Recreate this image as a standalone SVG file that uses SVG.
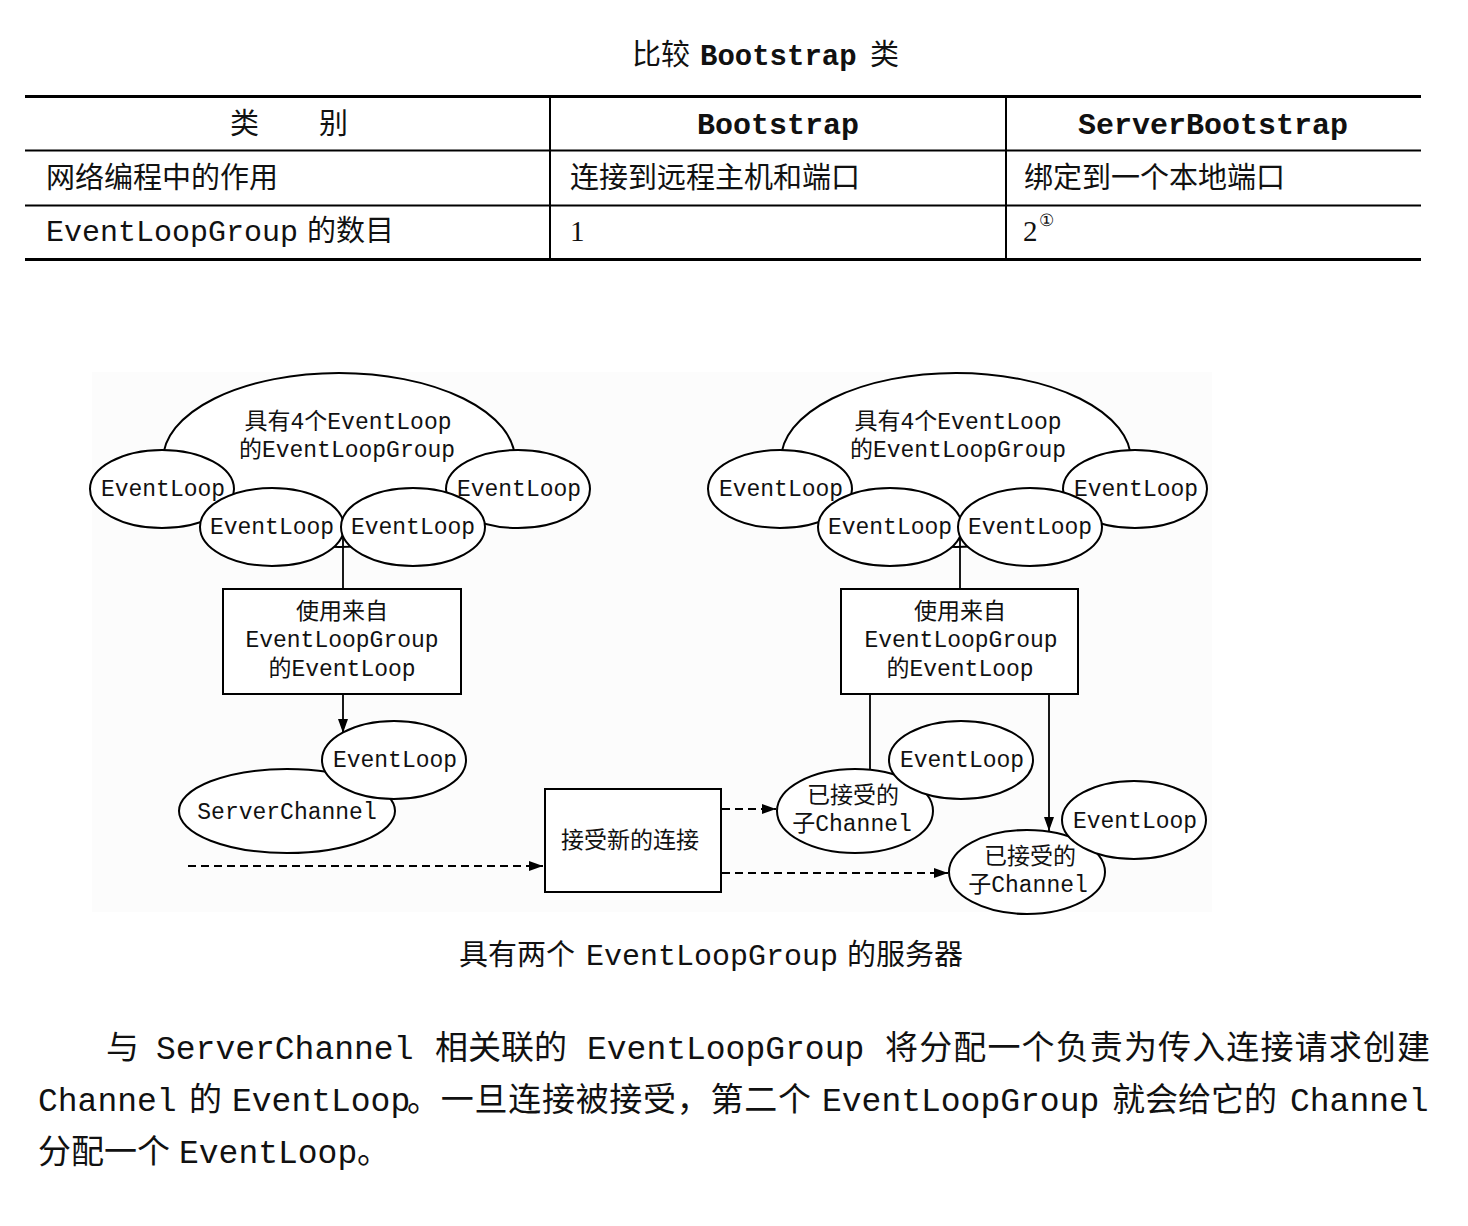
<svg xmlns="http://www.w3.org/2000/svg" width="1468" height="1226" viewBox="0 0 1468 1226">
  <style>
    .cjk { font-family: "Liberation Serif", "Noto Sans CJK SC", serif; fill: #111; }
    .mono { font-family: "Liberation Mono", "Noto Sans CJK SC", monospace; fill: #111; }
    .bold { font-weight: bold; }
    .serif { font-family: "Liberation Serif", serif; fill: #111; }
    .node { fill: #fff; stroke: #000; stroke-width: 2; }
    .lbl { font-family: "Liberation Mono", "Noto Sans CJK SC", monospace; font-size: 23px; fill: #111; text-anchor: middle; }
    .wire { fill: none; stroke: #000; stroke-width: 1.8; }
    .dash { stroke-dasharray: 8 5; }
    .rule { stroke: #000; }
  </style>
  <defs>
    <marker id="head" markerUnits="userSpaceOnUse" markerWidth="15" markerHeight="11" refX="14" refY="5" orient="auto">
      <path d="M0,0 L14,5 L0,10 z" fill="#000"/>
    </marker>
  </defs>

  <rect width="1468" height="1226" fill="#fff"/>

  <!-- table title -->
  <g id="table-title">
    <text class="cjk" x="632" y="65" font-size="29">比较</text>
    <text class="mono bold" x="700" y="65" font-size="29">Bootstrap</text>
    <text class="cjk" x="870" y="65" font-size="29">类</text>
  </g>

  <!-- comparison table -->
  <g id="table">
    <line class="rule" x1="25" y1="96.5" x2="1421" y2="96.5" stroke-width="3"/>
    <line class="rule" x1="25" y1="150.5" x2="1421" y2="150.5" stroke-width="2"/>
    <line class="rule" x1="25" y1="205.5" x2="1421" y2="205.5" stroke-width="2"/>
    <line class="rule" x1="25" y1="259.5" x2="1421" y2="259.5" stroke-width="3"/>
    <line class="rule" x1="550" y1="96" x2="550" y2="259" stroke-width="2"/>
    <line class="rule" x1="1006" y1="96" x2="1006" y2="259" stroke-width="2"/>

    <text class="cjk" x="230" y="134" font-size="29">类</text>
    <text class="cjk" x="319" y="134" font-size="29">别</text>
    <text class="mono bold" x="778" y="134" font-size="30" text-anchor="middle">Bootstrap</text>
    <text class="mono bold" x="1213" y="134" font-size="30" text-anchor="middle">ServerBootstrap</text>

    <text class="cjk" x="46" y="188" font-size="29">网络编程中的作用</text>
    <text class="cjk" x="570" y="188" font-size="29">连接到远程主机和端口</text>
    <text class="cjk" x="1024" y="188" font-size="29">绑定到一个本地端口</text>

    <text class="mono" x="46" y="241" font-size="30">EventLoopGroup</text>
    <text class="cjk" x="307" y="241" font-size="29">的数目</text>
    <text class="serif" x="570" y="241" font-size="29">1</text>
    <text class="serif" x="1023" y="241" font-size="29">2</text>
    <text class="serif" x="1039" y="226" font-size="17">①</text>
  </g>

  <!-- diagram backdrop -->
  <rect x="92" y="372" width="1120" height="540" fill="#fcfcfc"/>

  <!-- left: server channel side -->
  <g id="boss-group">
    <ellipse class="node" cx="339" cy="460" rx="176" ry="87"/>
    <text class="lbl" x="348" y="429">具有4个EventLoop</text>
    <text class="lbl" x="347" y="457">的EventLoopGroup</text>
  </g>
  <g id="boss-loop-1">
    <ellipse class="node" cx="162" cy="489" rx="72" ry="39"/>
    <text class="lbl" x="163" y="496">EventLoop</text>
  </g>
  <g id="boss-loop-2">
    <ellipse class="node" cx="518" cy="489" rx="72" ry="39"/>
    <text class="lbl" x="519" y="496">EventLoop</text>
  </g>
  <g id="boss-loop-3">
    <ellipse class="node" cx="272" cy="527" rx="72" ry="39"/>
    <text class="lbl" x="272" y="534">EventLoop</text>
  </g>
  <g id="boss-loop-4">
    <ellipse class="node" cx="413" cy="527" rx="72" ry="39"/>
    <text class="lbl" x="413" y="534">EventLoop</text>
  </g>
  <g id="boss-pick">
    <rect class="node" x="223" y="589" width="238" height="105"/>
    <text class="lbl" x="342" y="619">使用来自</text>
    <text class="lbl" x="342" y="647">EventLoopGroup</text>
    <text class="lbl" x="342" y="676">的EventLoop</text>
  </g>
  <g id="server-channel">
    <ellipse class="node" cx="287" cy="811" rx="108" ry="42"/>
    <text class="lbl" x="287" y="819">ServerChannel</text>
  </g>
  <g id="server-loop">
    <ellipse class="node" cx="394" cy="760" rx="72" ry="39"/>
    <text class="lbl" x="395" y="767">EventLoop</text>
  </g>
  <g id="accept">
    <rect class="node" x="545" y="789" width="176" height="103"/>
    <text class="lbl" x="630" y="848">接受新的连接</text>
  </g>

  <!-- right: child channel side -->
  <g id="worker-group">
    <ellipse class="node" cx="956" cy="460" rx="175" ry="87"/>
    <text class="lbl" x="958" y="429">具有4个EventLoop</text>
    <text class="lbl" x="958" y="457">的EventLoopGroup</text>
  </g>
  <g id="worker-loop-1">
    <ellipse class="node" cx="780" cy="489" rx="72" ry="39"/>
    <text class="lbl" x="781" y="496">EventLoop</text>
  </g>
  <g id="worker-loop-2">
    <ellipse class="node" cx="1135" cy="489" rx="72" ry="39"/>
    <text class="lbl" x="1136" y="496">EventLoop</text>
  </g>
  <g id="worker-loop-3">
    <ellipse class="node" cx="890" cy="527" rx="72" ry="39"/>
    <text class="lbl" x="890" y="534">EventLoop</text>
  </g>
  <g id="worker-loop-4">
    <ellipse class="node" cx="1030" cy="527" rx="72" ry="39"/>
    <text class="lbl" x="1030" y="534">EventLoop</text>
  </g>
  <g id="worker-pick">
    <rect class="node" x="841" y="589" width="237" height="105"/>
    <text class="lbl" x="960" y="619">使用来自</text>
    <text class="lbl" x="961" y="647">EventLoopGroup</text>
    <text class="lbl" x="960" y="676">的EventLoop</text>
  </g>
  <g id="child-channel-1">
    <ellipse class="node" cx="855" cy="811" rx="78" ry="42"/>
    <text class="lbl" x="853" y="803">已接受的</text>
    <text class="lbl" x="852" y="831">子Channel</text>
  </g>
  <g id="child-loop-1">
    <ellipse class="node" cx="961" cy="760" rx="72" ry="39"/>
    <text class="lbl" x="962" y="767">EventLoop</text>
  </g>
  <g id="child-channel-2">
    <ellipse class="node" cx="1027" cy="872" rx="78" ry="42"/>
    <text class="lbl" x="1030" y="864">已接受的</text>
    <text class="lbl" x="1028" y="892">子Channel</text>
  </g>
  <g id="child-loop-2">
    <ellipse class="node" cx="1134" cy="820" rx="72" ry="39"/>
    <text class="lbl" x="1135" y="828">EventLoop</text>
  </g>

  <!-- connectors -->
  <g id="connectors">
    <line class="wire" x1="343" y1="537" x2="343" y2="589"/>
    <line class="wire" x1="343" y1="694" x2="343" y2="733" marker-end="url(#head)"/>
    <line class="wire dash" x1="188" y1="866" x2="543" y2="866" marker-end="url(#head)"/>
    <line class="wire dash" x1="722" y1="809" x2="776" y2="809" marker-end="url(#head)"/>
    <line class="wire dash" x1="722" y1="873" x2="948" y2="873" marker-end="url(#head)"/>
    <line class="wire" x1="960" y1="537" x2="960" y2="589"/>
    <line class="wire" x1="870" y1="694" x2="870" y2="770"/>
    <line class="wire" x1="1049" y1="694" x2="1049" y2="831" marker-end="url(#head)"/>
  </g>

  <!-- caption -->
  <g id="caption">
    <text class="cjk" x="459" y="965" font-size="29">具有两个</text>
    <text class="mono" x="586" y="965" font-size="30">EventLoopGroup</text>
    <text class="cjk" x="847" y="965" font-size="29">的服务器</text>
  </g>

  <!-- body paragraph -->
  <g id="paragraph">
    <text class="cjk" x="106" y="1059" font-size="33">与</text>
    <text class="mono" x="156" y="1059" font-size="33">ServerChannel</text>
    <text class="cjk" x="435" y="1059" font-size="33">相关联的</text>
    <text class="mono" x="587" y="1059" font-size="33">EventLoopGroup</text>
    <text class="cjk" x="885" y="1059" font-size="33" textLength="545">将分配一个负责为传入连接请求创建</text>

    <text class="mono" x="38" y="1111" font-size="33">Channel</text>
    <text class="cjk" x="189" y="1111" font-size="33">的</text>
    <text class="mono" x="232" y="1111" font-size="33">EventLoop</text>
    <text class="cjk" x="407" y="1111" font-size="33" textLength="404">。一旦连接被接受，第二个</text>
    <text class="mono" x="822" y="1111" font-size="33">EventLoopGroup</text>
    <text class="cjk" x="1112" y="1111" font-size="33">就会给它的</text>
    <text class="mono" x="1290" y="1111" font-size="33">Channel</text>

    <text class="cjk" x="38" y="1163" font-size="33">分配一个</text>
    <text class="mono" x="179" y="1163" font-size="33">EventLoop</text>
    <text class="cjk" x="357" y="1163" font-size="33">。</text>
  </g>
</svg>
